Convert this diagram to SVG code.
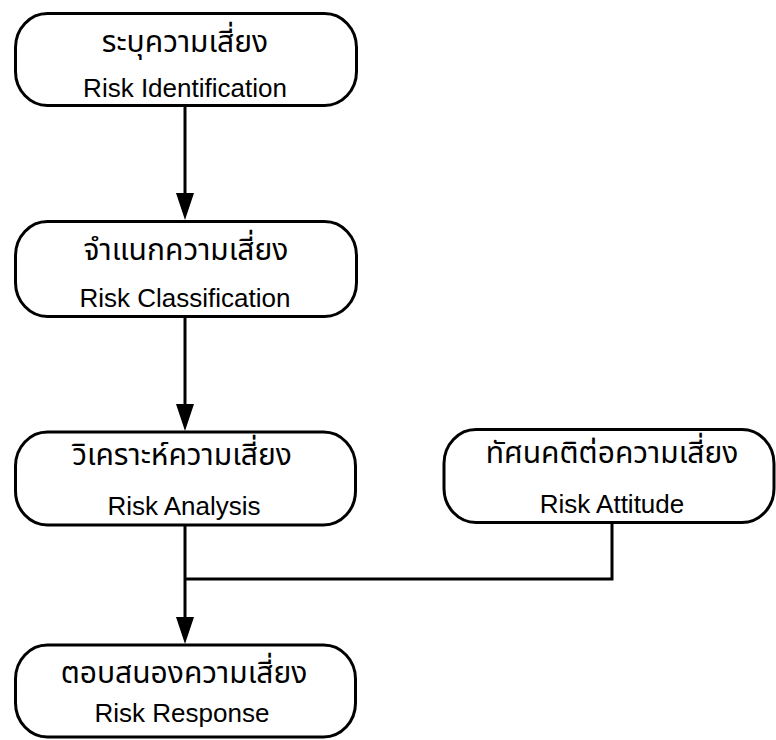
<svg xmlns="http://www.w3.org/2000/svg" width="776" height="740" viewBox="0 0 776 740">
  <style>
    .box { fill: #ffffff; stroke: #000000; stroke-width: 3; }
    .lbl { font-family: "Liberation Sans", "Noto Sans Thai", "Noto Sans", "DejaVu Sans", sans-serif; font-size: 26px; fill: #000000; text-anchor: middle; }
    .th { font-size: 30px; }
    .wire { fill: none; stroke: #000000; stroke-width: 3; }
  </style>
  <defs>
    <marker id="arrow" viewBox="0 0 27 18" refX="17" refY="9" markerWidth="27" markerHeight="18" markerUnits="userSpaceOnUse" orient="auto">
      <path d="M0,0 L27,9 L0,18 Z" fill="#000000"/>
    </marker>
  </defs>

  <g id="connectors">
    <line class="wire" x1="185" y1="106" x2="185" y2="210" marker-end="url(#arrow)"/>
    <line class="wire" x1="185" y1="317" x2="185" y2="421" marker-end="url(#arrow)"/>
    <line class="wire" x1="185" y1="526" x2="185" y2="634" marker-end="url(#arrow)"/>
    <polyline class="wire" points="612,523 612,579 185,579"/>
  </g>

  <g id="risk-identification">
    <rect class="box" x="15.5" y="13.5" width="341" height="92" rx="32" ry="34"/>
    <text class="lbl th" x="185" y="52">ระบุความเสี่ยง</text>
    <text class="lbl" x="185" y="97">Risk Identification</text>
  </g>

  <g id="risk-classification">
    <rect class="box" x="15.5" y="221.5" width="341" height="95" rx="32" ry="34"/>
    <text class="lbl th" x="186" y="260">จำแนกความเสี่ยง</text>
    <text class="lbl" x="185" y="307">Risk Classification</text>
  </g>

  <g id="risk-analysis">
    <rect class="box" x="15.5" y="432" width="340" height="93" rx="32" ry="34"/>
    <text class="lbl th" x="182" y="465">วิเคราะห์ความเสี่ยง</text>
    <text class="lbl" x="184" y="515">Risk Analysis</text>
  </g>

  <g id="risk-attitude">
    <rect class="box" x="444" y="429.5" width="330" height="93" rx="32" ry="34"/>
    <text class="lbl th" x="612" y="463">ทัศนคติต่อความเสี่ยง</text>
    <text class="lbl" x="612" y="513">Risk Attitude</text>
  </g>

  <g id="risk-response">
    <rect class="box" x="15.5" y="645" width="340" height="92" rx="32" ry="34"/>
    <text class="lbl th" x="184" y="683">ตอบสนองความเสี่ยง</text>
    <text class="lbl" x="182" y="722">Risk Response</text>
  </g>
</svg>
